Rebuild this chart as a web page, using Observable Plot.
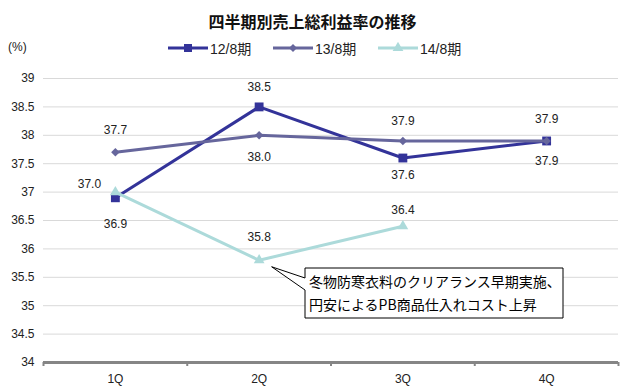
<!DOCTYPE html>
<html><head><meta charset="utf-8">
<script src="https://cdn.jsdelivr.net/npm/d3@7"></script>
<script src="https://cdn.jsdelivr.net/npm/@observablehq/plot@0.6"></script>
<style>
body{margin:0;background:#fff;font-family:"Liberation Sans","Noto Sans CJK JP",sans-serif;color:#222}
#wrap{position:relative;width:625px;height:392px;overflow:hidden;background:#fff}
#head{position:relative;height:62px}
#title{position:absolute;left:0;width:625px;top:9px;text-align:center;font-family:"Noto Sans CJK JP",sans-serif;font-weight:bold;font-size:16px;line-height:24px;color:#111}
#unit{position:absolute;left:8px;top:39px;font-size:12px;line-height:16px}
.leg{position:absolute;top:39px;height:18px;display:flex;align-items:center;font-size:14px;font-family:"Liberation Sans","Noto Sans CJK JP",sans-serif}
.leg svg{margin-right:2px}
#chart svg{display:block}
</style></head><body>
<div id="wrap"><div id="head"><div id="title"></div><div id="unit"></div></div><div id="chart"></div></div>
<script>
// ---- data ----
const title = "四半期別売上総利益率の推移";
const unitLabel = "(%)";
const quarters = ["1Q", "2Q", "3Q", "4Q"];
const seriesNames = ["12/8期", "13/8期", "14/8期"];
const fy12 = [36.9, 38.5, 37.6, 37.9];
const fy13 = [37.7, 38.0, 37.9, 37.9];
const fy14 = [37.0, 35.8, 36.4];
const yTicks = [34, 34.5, 35, 35.5, 36, 36.5, 37, 37.5, 38, 38.5, 39];
const note = ["冬物防寒衣料のクリアランス早期実施、", "円安によるPB商品仕入れコスト上昇"];

// ---- styles ----
const colors = ["#333399", "#66669c", "#acdada"];
const symbols = ["square", "diamond2", "triangle"];
const radii = [5, 3.8, 4];
const fmt = d3.format(".1f");
const seriesValues = [fy12, fy13, fy14];
// label offsets per series / point (dx, dy)
const labelOffsets = [
  [[0, 26], [0, -20], [0, 17], [0, 20]],
  [[0, -22], [0, 22], [0, -20], [0, -22]],
  [[-26, -8], [0, -23], [0, -16]]
];

document.getElementById("title").textContent = title;
document.getElementById("unit").textContent = unitLabel;

// legend
const head = document.getElementById("head");
const legLeft = [168, 273, 378];
seriesNames.forEach((name, i) => {
  const div = document.createElement("div");
  div.className = "leg";
  div.style.left = legLeft[i] + "px";
  const sw = d3.create("svg").attr("width", 40).attr("height", 12);
  sw.append("line").attr("x1", 0).attr("x2", 40).attr("y1", 6).attr("y2", 6)
    .attr("stroke", colors[i]).attr("stroke-width", 3);
  const sym = {square: d3.symbolSquare, diamond2: d3.symbolDiamond2, triangle: d3.symbolTriangle}[symbols[i]];
  sw.append("path").attr("transform", "translate(20,6)")
    .attr("d", d3.symbol(sym, [64, 40, 50][i])()).attr("fill", colors[i]);
  div.appendChild(sw.node());
  const t = document.createElement("span");
  t.textContent = name;
  div.appendChild(t);
  head.appendChild(div);
});

// rows
const rows = [];
seriesValues.forEach((vals, s) => vals.forEach((v, i) => rows.push({series: s, qi: i, value: v})));
const bounds = d3.range(quarters.length + 1).map(i => i - 0.5);

const marks = [
  Plot.ruleY(yTicks.filter(t => t > yTicks[0]), {y: d => d, stroke: "#d9d9d9", strokeWidth: 1}),
  Plot.ruleY([yTicks[0]], {y: d => d, stroke: "#858585", strokeWidth: 3}),
  Plot.ruleX(bounds, {x: d => d, y1: yTicks[0], y2: yTicks[0], insetBottom: -4, stroke: "#858585", strokeWidth: 2})
];
seriesValues.forEach((vals, s) => {
  const data = rows.filter(r => r.series === s);
  marks.push(Plot.line(data, {x: "qi", y: "value", stroke: colors[s], strokeWidth: 3}));
  marks.push(Plot.dot(data, {x: "qi", y: "value", fill: colors[s], symbol: () => symbols[s], r: radii[s]}));
});
seriesValues.forEach((vals, s) => {
  rows.filter(r => r.series === s).forEach(r => {
    const [dx, dy] = labelOffsets[s][r.qi];
    marks.push(Plot.text([r], {x: "qi", y: "value", text: d => fmt(d.value), dx, dy, fill: "#222", fontSize: 12}));
  });
});
// callout anchored to 14/8 2Q point
marks.push((index, scales) => {
  const px = scales.x(1), py = scales.y(fy14[1]);
  const tipX = px + 13, tipY = py + 7;
  const L = 305, T = 206, R = 563, B = 256;
  const g = d3.create("svg:g").attr("text-anchor", "start");
  g.append("path")
    .attr("d", `M${L},${T}H${R}V${B}H${L}V${T + 22}L${tipX},${tipY}L${L},${T + 10}Z`)
    .attr("fill", "white").attr("stroke", "#000").attr("stroke-width", 1);
  note.forEach((line, i) => {
    g.append("text").attr("x", L + 4).attr("y", T + 15 + i * 23)
      .attr("text-anchor", "start")
      .attr("dominant-baseline", "middle")
      .attr("font-family", "'Noto Sans CJK JP', sans-serif")
      .attr("font-size", 14).attr("fill", "#000").text(line);
  });
  return g.node();
});

const chart = Plot.plot({
  width: 625, height: 330,
  marginTop: 16, marginBottom: 30, marginLeft: 43, marginRight: 7,
  style: {fontFamily: "'Liberation Sans', 'Noto Sans CJK JP', sans-serif", fontSize: "12px", color: "#222", background: "white"},
  x: {type: "linear", domain: [-0.5, quarters.length - 0.5], ticks: d3.range(quarters.length), tickFormat: i => quarters[i], tickSize: 0, tickPadding: 12, label: null},
  y: {domain: [yTicks[0], yTicks[yTicks.length - 1]], ticks: yTicks, tickFormat: d => String(d), tickSize: 0, tickPadding: 9, label: null},
  marks
});
document.getElementById("chart").appendChild(chart);
</script>
</body></html>
